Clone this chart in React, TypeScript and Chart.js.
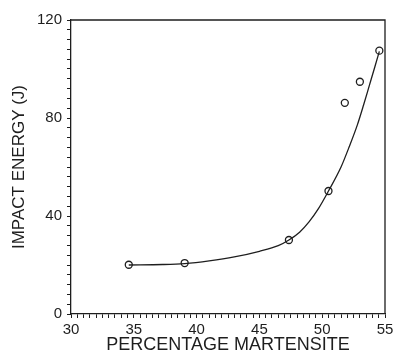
import React, { useEffect, useRef } from "react";
import { Chart, registerables } from "chart.js";

Chart.register(...registerables);

// Measured data points (percentage martensite, impact energy in J)
const martensitePct = [34.6, 39.05, 47.35, 50.5, 51.8, 53.0, 54.55];
const impactEnergy = [20.1, 20.8, 30.2, 50.2, 86.2, 94.8, 107.5];

// Fitted curve
const curvePct = [34.6, 37.3, 39.05, 41.0, 43.0, 45.0, 46.5, 47.35, 48.2, 48.95, 49.7, 50.5, 51.5, 52.1, 52.8, 53.3, 53.75, 54.2, 54.55];
const curveEnergy = [20.0, 20.2, 20.6, 21.7, 23.3, 25.6, 27.9, 30.2, 33.4, 37.6, 43.0, 50.2, 60.0, 67.6, 77.2, 85.4, 93.2, 101.0, 107.2];

const xTickLabels = [30, 35, 40, 45, 50, 55];
const yTickLabels = [0, 40, 80, 120];

const INK = "#1e1e1e";
const FONT = "'Liberation Sans', Arial, sans-serif";

const framePlugin = {
  id: "frame",
  afterDraw(chart: any) {
    const { ctx, chartArea } = chart;
    ctx.save();
    ctx.strokeStyle = INK;
    ctx.lineWidth = 1.3;
    ctx.beginPath();
    ctx.moveTo(chartArea.left, chartArea.top);
    ctx.lineTo(chartArea.right, chartArea.top);
    ctx.lineTo(chartArea.right, chartArea.bottom);
    ctx.stroke();
    ctx.restore();
  },
};

export default function App() {
  const ref = useRef<HTMLCanvasElement | null>(null);

  useEffect(() => {
    if (!ref.current) return;
    const chart = new Chart(ref.current, {
      type: "scatter",
      data: {
        datasets: [
          {
            type: "line",
            label: "fit",
            data: curvePct.map((x, i) => ({ x, y: curveEnergy[i] })),
            borderColor: INK,
            borderWidth: 1.3,
            pointRadius: 0,
            cubicInterpolationMode: "monotone",
            fill: false,
          } as any,
          {
            type: "scatter",
            label: "data",
            data: martensitePct.map((x, i) => ({ x, y: impactEnergy[i] })),
            borderColor: INK,
            backgroundColor: "rgba(0,0,0,0)",
            borderWidth: 1.3,
            pointRadius: 3.5,
            pointStyle: "circle",
          },
        ],
      },
      options: {
        animation: false,
        responsive: false,
        devicePixelRatio: 1,
        layout: { padding: { left: 0, right: 9, top: 20, bottom: 0 } },
        plugins: { legend: { display: false }, tooltip: { enabled: false } },
        scales: {
          x: {
            type: "linear",
            min: 30,
            max: 55,
            border: { color: INK, width: 1.3 },
            grid: { drawOnChartArea: false, drawTicks: true, tickLength: 4, color: INK, lineWidth: 1 },
            ticks: {
              stepSize: 0.5,
              autoSkip: false,
              maxRotation: 0,
              padding: 3,
              color: INK,
              font: { family: FONT, size: 15 },
              callback: (v: any) => (xTickLabels.includes(Number(v)) ? String(v) : ""),
            },
            title: {
              display: true,
              text: "PERCENTAGE MARTENSITE",
              color: INK,
              font: { family: FONT, size: 18 },
              padding: { top: 0, bottom: 0 },
            },
            afterFit: (s: any) => {
              s.height = 42;
              s.paddingLeft = 0;
              s.paddingRight = 0;
            },
          },
          y: {
            type: "linear",
            min: 0,
            max: 120,
            border: { color: INK, width: 1.3 },
            grid: { drawOnChartArea: false, drawTicks: true, tickLength: 4, color: INK, lineWidth: 1 },
            ticks: {
              stepSize: 4,
              autoSkip: false,
              padding: 5,
              color: INK,
              font: { family: FONT, size: 15 },
              callback: (v: any) => (yTickLabels.includes(Number(v)) ? String(v) : ""),
            },
            title: {
              display: true,
              text: "IMPACT ENERGY (J)",
              color: INK,
              font: { family: FONT, size: 17 },
              padding: { top: 9, bottom: 0 },
            },
            afterFit: (s: any) => {
              s.width = 71;
              s.paddingTop = 0;
              s.paddingBottom = 0;
            },
          },
        },
      },
      plugins: [framePlugin],
    });
    return () => chart.destroy();
  }, []);

  return (
    <div style={{ position: "fixed", left: 0, top: 0, width: 394, height: 356, background: "#fff" }}>
      <canvas ref={ref} width={394} height={356} style={{ width: 394, height: 356 }} />
    </div>
  );
}
